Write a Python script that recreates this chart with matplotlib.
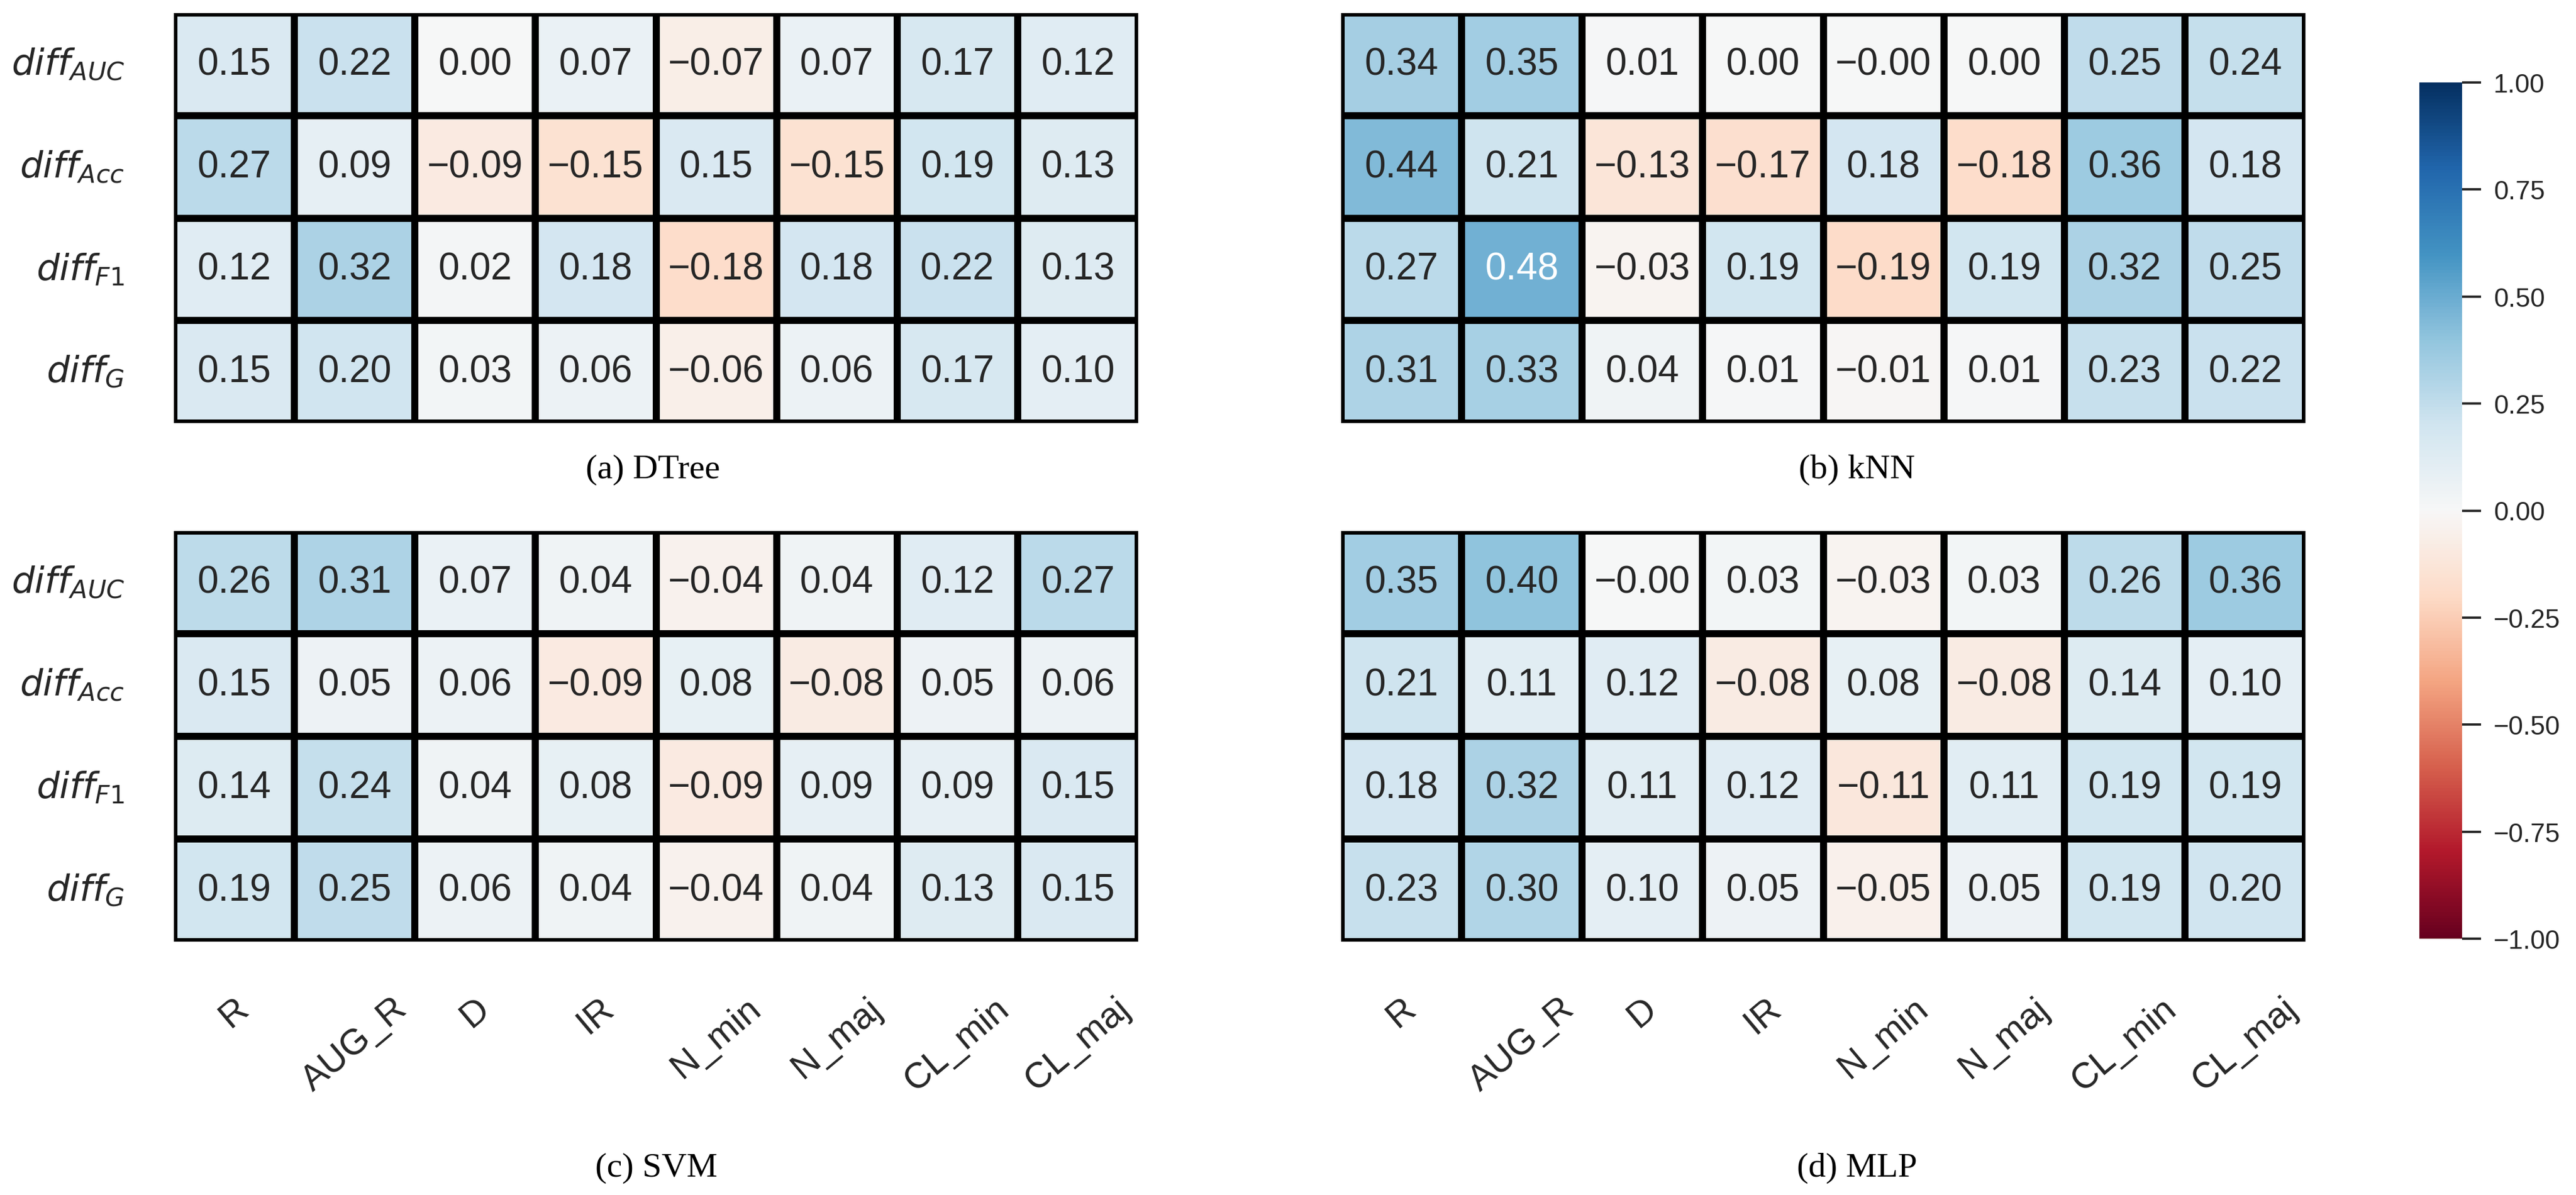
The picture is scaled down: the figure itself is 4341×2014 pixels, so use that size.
import numpy as np
import matplotlib
matplotlib.use('Agg')
import matplotlib.pyplot as plt
from matplotlib.ticker import FuncFormatter
import seaborn as sns

sns.set_theme(style='white')
plt.rcParams['font.family'] = ['Liberation Sans', 'DejaVu Sans']
plt.rcParams['mathtext.fontset'] = 'dejavusans'

# --- data ---
features = ['R', 'AUG_R', 'D', 'IR', 'N_min', 'N_maj', 'CL_min', 'CL_maj']
metrics = [r'$diff_{AUC}$', r'$diff_{Acc}$', r'$diff_{F1}$', r'$diff_{G}$']

dtree = [
    [0.15, 0.22, 0.00, 0.07, -0.07, 0.07, 0.17, 0.12],
    [0.27, 0.09, -0.09, -0.15, 0.15, -0.15, 0.19, 0.13],
    [0.12, 0.32, 0.02, 0.18, -0.18, 0.18, 0.22, 0.13],
    [0.15, 0.20, 0.03, 0.06, -0.06, 0.06, 0.17, 0.10],
]
knn = [
    [0.34, 0.35, 0.01, 0.00, -0.0, 0.00, 0.25, 0.24],
    [0.44, 0.21, -0.13, -0.17, 0.18, -0.18, 0.36, 0.18],
    [0.27, 0.48, -0.03, 0.19, -0.19, 0.19, 0.32, 0.25],
    [0.31, 0.33, 0.04, 0.01, -0.01, 0.01, 0.23, 0.22],
]
svm = [
    [0.26, 0.31, 0.07, 0.04, -0.04, 0.04, 0.12, 0.27],
    [0.15, 0.05, 0.06, -0.09, 0.08, -0.08, 0.05, 0.06],
    [0.14, 0.24, 0.04, 0.08, -0.09, 0.09, 0.09, 0.15],
    [0.19, 0.25, 0.06, 0.04, -0.04, 0.04, 0.13, 0.15],
]
mlp = [
    [0.35, 0.40, -0.0, 0.03, -0.03, 0.03, 0.26, 0.36],
    [0.21, 0.11, 0.12, -0.08, 0.08, -0.08, 0.14, 0.10],
    [0.18, 0.32, 0.11, 0.12, -0.11, 0.11, 0.19, 0.19],
    [0.23, 0.30, 0.10, 0.05, -0.05, 0.05, 0.19, 0.20],
]
captions = ['(a) DTree', '(b) kNN', '(c) SVM', '(d) MLP']


def fmt(v, pos=None):
    # two decimals with a real minus sign
    return '{:.2f}'.format(v).replace('-', '\u2212')


W, H = 4341, 2015
fig = plt.figure(figsize=(W / 200, H / 200), dpi=200)

# panel boxes in pixels: left, top, right, bottom
boxes = [(293, 23, 1918, 714), (2260, 23, 3885, 714),
         (293, 896, 1918, 1588), (2260, 896, 3885, 1588)]
cap_pos = [(1100, 792), (3129, 792), (1106, 1969), (3129, 1969)]

axes = []
for i, (data, box) in enumerate(zip([dtree, knn, svm, mlp], boxes)):
    l, t, r, b = box
    ax = fig.add_axes([l / W, 1 - b / H, (r - l) / W, (b - t) / H])
    arr = np.array(data)
    labels = np.array([[fmt(v) for v in row] for row in data])
    sns.heatmap(arr, ax=ax, cmap='RdBu', vmin=-1, vmax=1,
                annot=labels, fmt='', annot_kws={'fontsize': 23},
                linewidths=4.3, linecolor='black', cbar=False,
                xticklabels=features, yticklabels=metrics)
    ax.tick_params(length=0, labelsize=22)
    ax.tick_params(axis='y', pad=30, labelrotation=0)
    ax.tick_params(axis='x', pad=30)
    for lab in ax.get_xticklabels():
        lab.set_rotation(40)
        lab.set_ha('center')
    if i < 2:
        ax.tick_params(labelbottom=False)
    if i % 2 == 1:
        ax.tick_params(labelleft=False)
    cx, cy = cap_pos[i]
    fig.text(cx / W, 1 - cy / H, captions[i], family='Liberation Serif',
             fontsize=21, ha='center', va='center', color='black')
    axes.append(ax)

# --- shared colorbar ---
cax = fig.add_axes([4077 / W, 1 - 1583 / H, 72 / W, 1443 / H])
cb = fig.colorbar(axes[0].collections[0], cax=cax,
                  ticks=np.linspace(-1, 1, 9), format=FuncFormatter(fmt))
cb.outline.set_visible(False)
cb.ax.tick_params(length=11.5, width=1.4, labelsize=16, pad=7.5,
                  color='#262626', labelcolor='#262626')

fig.savefig('out.png', dpi=200)
